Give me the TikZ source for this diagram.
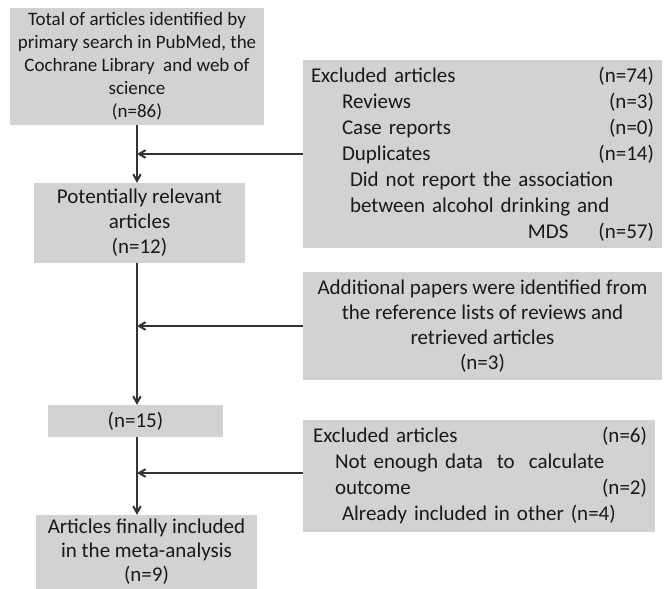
\documentclass[tikz,border=0pt]{standalone}
\usepackage{fontspec}
\setmainfont{Carlito}
\usetikzlibrary{positioning,arrows}

\begin{document}
\begin{tikzpicture}
  [
    x=1pt, y=-1pt,
    >=angle 60,
    box/.style={fill=gray!35, text=black!90, inner xsep=8pt, inner ysep=0pt,
      font=\fontsize{21pt}{26pt}\selectfont, align=center},
    flow/.style={->, line width=2pt, draw=black!80}
  ]

  \useasboundingbox (0,0) rectangle (665,589);

  % linke Spalte
  \node[box, minimum width=243pt, minimum height=117pt,
    font=\fontsize{19pt}{23pt}\selectfont] (total) at (137,66.5)
    {Total of articles identified by\\ primary search in PubMed, the\\
     Cochrane Library\ \ and web of\\ science\\ (n=86)};
  \node[box, minimum width=211pt, minimum height=80pt, font=\fontsize{21pt}{25pt}\selectfont]
    (relevant) at (139.5,223) {Potentially relevant\\ articles\\ (n=12)};
  \node[box, minimum width=175pt, minimum height=32pt] (pooled) at (135.5,421) {(n=15)};
  \node[box, minimum width=221pt, minimum height=74pt, font=\fontsize{21pt}{24pt}\selectfont]
    (included) at (146.5,552) {Articles finally included\\ in the meta-analysis\\ (n=9)};

  % rechte Spalte
  \node[box, text width=343pt, minimum height=188pt, align=left] (excl1) at (482.5,154)
    {Excluded articles\hfill(n=74)\\
     \hspace*{31pt}Reviews\hfill(n=3)\hspace*{11pt}\\
     \hspace*{31pt}Case reports\hfill(n=0)\hspace*{11pt}\\
     \hspace*{31pt}Duplicates\hfill(n=14)\\
     \hspace*{39pt}Did not report the association\\
     \hspace*{39pt}between alcohol drinking and\\
     \hfill MDS\hspace*{30pt}(n=57)};
  \node[box, minimum width=359pt, minimum height=108pt, font=\fontsize{21pt}{25pt}\selectfont]
    (extra) at (482.5,326)
    {Additional papers were identified from\\ the reference lists of reviews and\\
     retrieved articles\\ (n=3)};
  \node[box, text width=336pt, minimum height=112pt, align=left] (excl2) at (479,476)
    {\hspace*{2pt}Excluded articles\hfill(n=6)\hspace*{34pt}\\
     \hspace*{24pt}Not enough data\ \ to\ \ calculate\\
     \hspace*{24pt}outcome\hfill(n=2)\hspace*{39pt}\\
     \hspace*{31pt}Already included in other (n=4)};

  % Pfeile
  \draw[flow] (total.south) -- (total.south |- relevant.north);
  \draw[flow] (relevant.south -| total.south) -- (total.south |- pooled.north);
  \draw[flow] (pooled.south -| total.south) -- (total.south |- included.north);
  \draw[flow] (excl1.west) -- (excl1.west -| total.south);
  \draw[flow] (extra.west) -- (extra.west -| total.south);
  \draw[flow] ([yshift=3pt]excl2.west) -- ([yshift=3pt]excl2.west -| total.south);
\end{tikzpicture}
\end{document}
